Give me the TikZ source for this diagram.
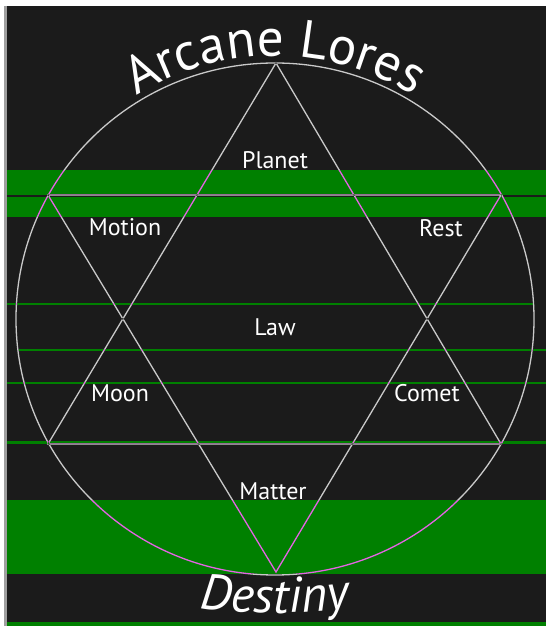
\documentclass[tikz,border=0pt]{standalone}
\usepackage{fontspec}
\setmainfont{PT Sans}
\usetikzlibrary{decorations.text}

\definecolor{bgdark}{RGB}{27,27,27}
\definecolor{band}{RGB}{0,128,0}
\definecolor{edge}{RGB}{228,228,228}

\begin{document}
\begin{tikzpicture}[x=1pt, y=1pt,
    every node/.style={text=white, inner sep=0pt, font=\fontsize{24}{27}\selectfont},
    rule/.style={draw=band, line width=1.6pt},
    star/.style={draw=edge, line width=1.3pt, blend mode=difference}
]
\useasboundingbox (0,0) rectangle (546,626);
\fill[white] (0,0) rectangle (546,626);
\fill[bgdark] (7,0) rectangle (546,620);
\fill[gray!75] (4.3,0) rectangle (7,620);

\fill[band] (7,409) rectangle (546,456);
\fill[band] (7,52) rectangle (546,126);
\fill[band] (7,0) rectangle (546,4);
\draw[bgdark, line width=2pt] (7,430) -- (546,430);
\draw[rule] (7,322) -- (533,322);
\draw[rule] (19,276) -- (546,276);
\draw[rule] (7,243) -- (546,243);
\draw[rule, line width=3pt] (7,183) -- (546,183);

\coordinate (c) at (275,307);
\coordinate (up) at (276,563);
\coordinate (ul) at (48,431);
\coordinate (ur) at (501,431);
\coordinate (dl) at (48,182);
\coordinate (dr) at (501,182);
\coordinate (dn) at (276,54);

\draw[star] (c) ellipse [x radius=259, y radius=256];
\draw[star] (up) -- (dl) -- (dr) -- cycle;
\draw[star] (ul) -- (ur) -- (dn) -- cycle;

\node (planet) at (275,466) {Planet};
\node (motion) at (125,399) {Motion};
\node (rest) at (441,398) {Rest};
\node (law) at (275,299) {Law};
\node (moon) at (120,233) {Moon};
\node (comet) at (427,233) {Comet};
\node (matter) at (273,135) {Matter};

\path[decorate, decoration={text along path, text align=center, text color=white,
    text={|\fontsize{53}{55}\selectfont|Arcane Lores}}]
  (c) ++(127:263) arc[start angle=127, end angle=53, radius=263];
\path[decorate, decoration={text along path, text align=center, text color=white,
    text={|\fontsize{50}{52}\selectfont\itshape|Destiny}}]
  (275,613) ++(262:600) arc[start angle=262, end angle=278, radius=600];
\end{tikzpicture}
\end{document}
